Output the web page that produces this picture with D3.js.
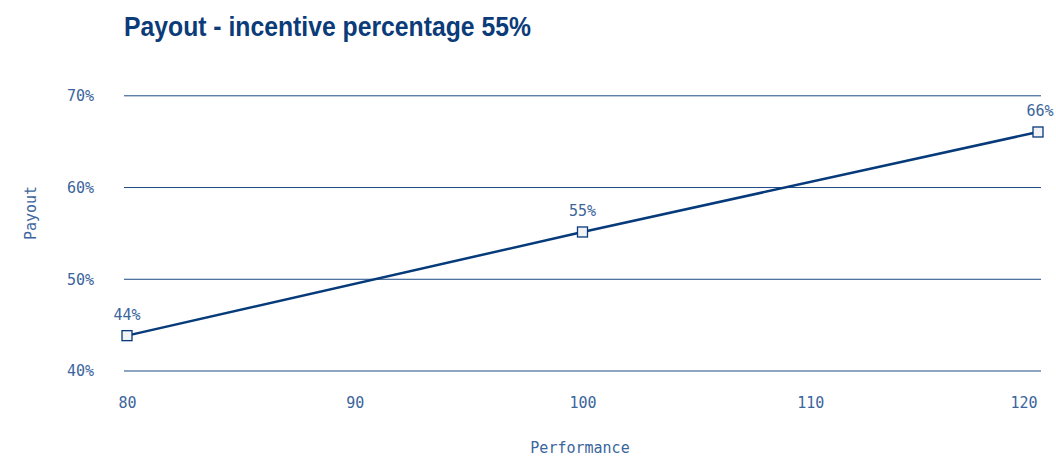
<!DOCTYPE html>
<html><head><meta charset="utf-8">
<script src="https://cdn.jsdelivr.net/npm/d3@7"></script>
<style>
body{margin:0;background:#fff;}
svg{display:block;}
</style></head>
<body>
<svg id="chart" width="1056" height="457"></svg>
<script>
const performance = [80, 100, 120];
const payout = [43.8, 55.1, 66.0];
const pointLabels = ["44%", "55%", "66%"];
const xTicks = [80, 90, 100, 110, 120];
const yTicks = [40, 50, 60, 70];
const title = "Payout - incentive percentage 55%";
const xTitle = "Performance";
const yTitle = "Payout";

const navy = "#063a7a", textCol = "#3b659c", gridCol = "#1c4a85";
const mono = "'DejaVu Sans Mono', 'Liberation Mono', monospace";

const svg = d3.select("#chart");
const x = d3.scaleLinear().domain([80, 120]).range([127, 1038]);
const y = d3.scaleLinear().domain([40, 70]).range([370.5, 95.3]);

svg.append("text").attr("x", 124).attr("y", 36)
  .attr("fill", "#0b3b78").attr("font-family", "'Liberation Sans Narrow','Liberation Sans',Arial,sans-serif")
  .attr("font-weight", "bold").attr("font-size", 27)
  .attr("textLength", 407).attr("lengthAdjust", "spacingAndGlyphs")
  .text(title);

// y grid + labels
const yAxis = d3.axisLeft(y).tickValues(yTicks).tickSize(-(1041 - 124)).tickPadding(30).tickFormat(d => d + "%");
const gy = svg.append("g").attr("transform", "translate(124,0)").call(yAxis);
gy.select(".domain").remove();
gy.selectAll(".tick line").attr("stroke", gridCol).attr("stroke-width", 1);
gy.selectAll(".tick text").attr("fill", textCol).attr("font-family", mono).attr("font-size", 15).attr("dy", "0.35em");

// x axis labels
const xAxis = d3.axisBottom(x).tickValues(xTicks).tickSize(0).tickPadding(0).tickFormat(d3.format("d"));
const gx = svg.append("g").attr("transform", "translate(0,397)").call(xAxis);
gx.select(".domain").remove();
gx.selectAll(".tick text").attr("fill", textCol).attr("font-family", mono).attr("font-size", 15).attr("dy", "0.71em");
// last label kept inside the plot edge
gx.selectAll(".tick text").filter(d => d === xTicks[xTicks.length - 1]).attr("text-anchor", "end").attr("x", -1);

svg.append("text").attr("x", 580).attr("y", 453).attr("text-anchor", "middle")
  .attr("fill", textCol).attr("font-family", mono).attr("font-size", 15).text(xTitle);
svg.append("text").attr("transform", "translate(36,213) rotate(-90)").attr("text-anchor", "middle")
  .attr("fill", textCol).attr("font-family", mono).attr("font-size", 15).text(yTitle);

const data = performance.map((p, i) => ({p, v: payout[i], l: pointLabels[i]}));
svg.append("path").datum(data)
  .attr("d", d3.line().x(d => x(d.p)).y(d => y(d.v)))
  .attr("fill", "none").attr("stroke", navy).attr("stroke-width", 2.5);

svg.selectAll(".pt").data(data).join("rect").attr("class", "pt")
  .attr("x", d => x(d.p) - 5).attr("y", d => y(d.v) - 5).attr("width", 10).attr("height", 10)
  .attr("fill", "#f1f3f7").attr("stroke", navy).attr("stroke-width", 1.3);

svg.selectAll(".lbl").data(data).join("text").attr("class", "lbl")
  .attr("x", d => x(d.p) + (d.p === 120 ? 2 : 0)).attr("y", d => y(d.v) - 16)
  .attr("text-anchor", "middle").attr("fill", textCol).attr("font-family", mono).attr("font-size", 15)
  .text(d => d.l);
</script>
</body></html>
